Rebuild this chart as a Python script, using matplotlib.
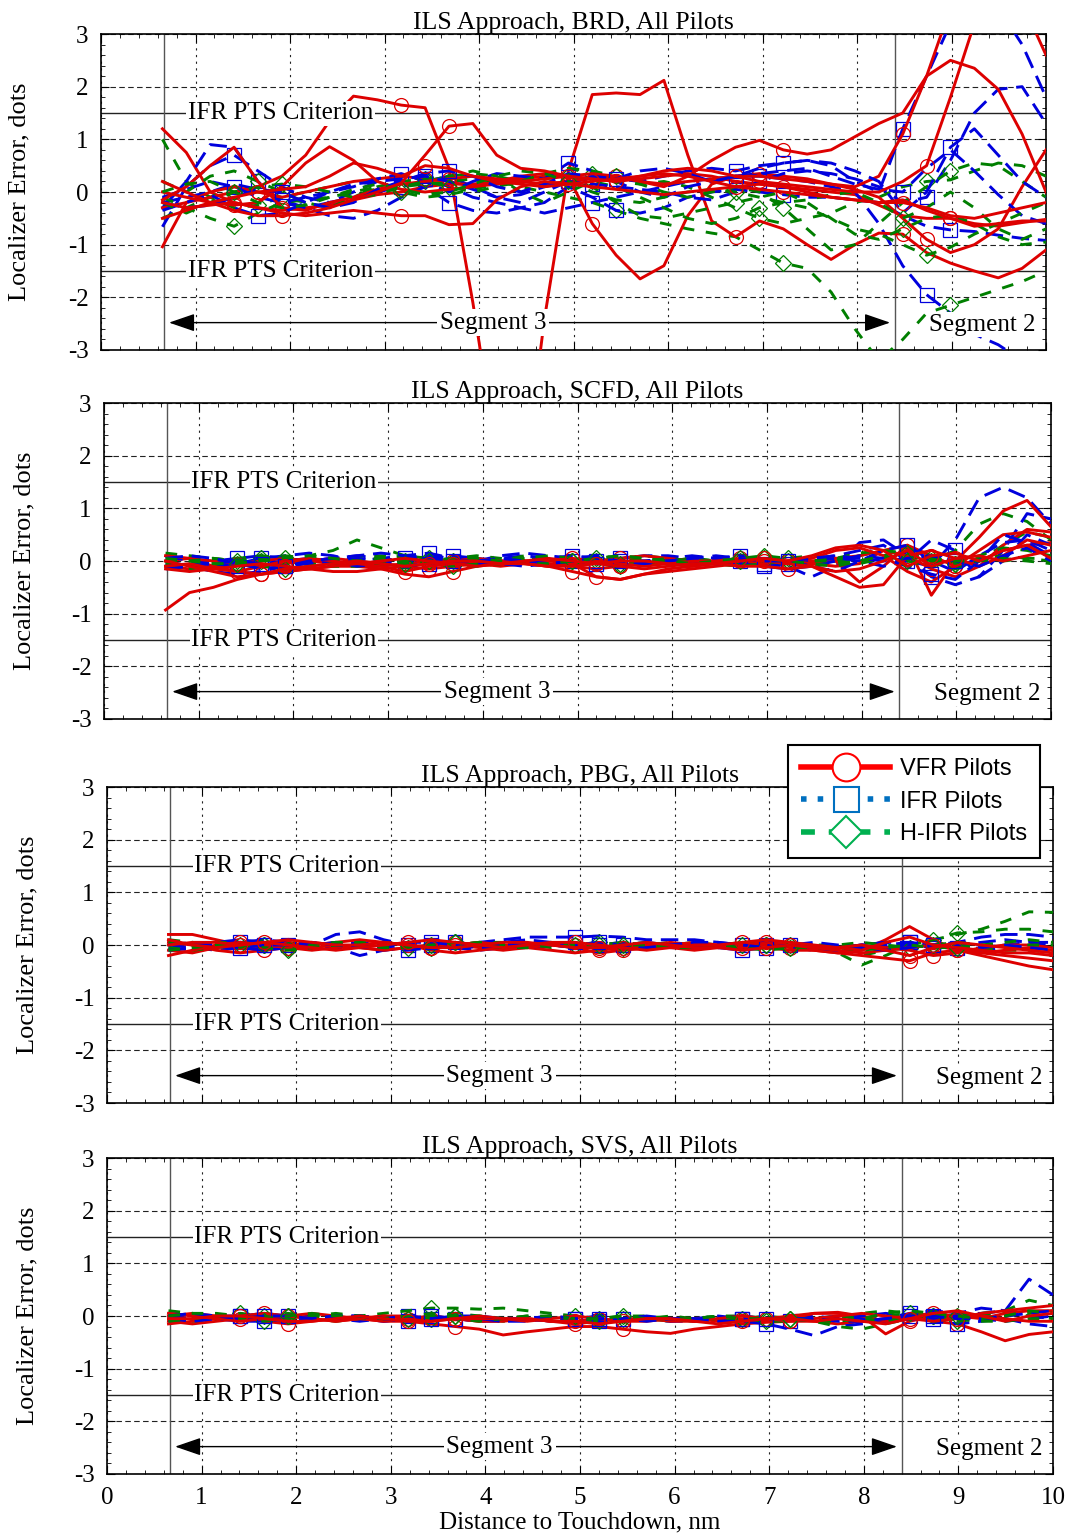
import numpy as np
import matplotlib
matplotlib.use("Agg")
import matplotlib.pyplot as plt
from matplotlib.lines import Line2D

plt.rcParams['font.family'] = ['Liberation Serif', 'DejaVu Serif']
plt.rcParams['axes.unicode_minus'] = False

# ---------------- data ----------------
# distance to touchdown (nm) at which each trace is sampled
DIST = np.linspace(0.65, 10.0, 38)

PANEL_TITLES = ["ILS Approach, BRD, All Pilots", "ILS Approach, SCFD, All Pilots",
                "ILS Approach, PBG, All Pilots", "ILS Approach, SVS, All Pilots"]
X_TICKS = [0, 1, 2, 3, 4, 5, 6, 7, 8, 9, 10]
Y_TICKS = [-3, -2, -1, 0, 1, 2, 3]
PTS_LIMIT = 1.5
SEG_BOUNDS = [0.67, 8.4]
LEGEND_LABELS = ["VFR Pilots", "IFR Pilots", "H-IFR Pilots"]

# ---- BRD ----
BRD_VFR = [
    [1.2,0.75,0.0,-0.2,-0.3,-0.35,-0.3,-0.25,-0.15,-0.05,0.0,0.1,0.15,0.15,0.2,0.25,0.3,0.3,0.25,0.2,0.25,0.3,0.35,0.3,0.2,0.15,0.1,0.05,0.0,-0.05,-0.25,-0.45,-0.5,-0.5,-0.6,-0.65,-0.58,-0.52],
    [-0.3,-0.2,-0.1,0.0,0.1,0.3,0.7,1.35,1.82,1.75,1.65,1.6,0.45,-2.1,-5.0,-6.0,-2.4,0.4,1.85,1.88,1.85,2.12,0.7,-0.55,-0.85,-0.55,-0.7,-1.0,-1.28,-1.0,-0.78,-0.8,-1.15,-1.35,-1.5,-1.63,-1.45,-1.1],
    [-1.04,-0.2,0.0,0.1,0.0,-0.1,0.0,0.1,0.2,0.25,0.3,0.25,0.2,0.1,0.2,0.3,0.35,0.28,-0.6,-1.2,-1.65,-1.4,-0.45,0.15,0.3,0.35,0.3,0.25,0.15,0.05,-0.1,-0.5,-0.9,-1.15,-1.0,-0.7,0.1,0.8],
    [-0.15,0.1,0.5,0.85,0.2,-0.3,-0.35,-0.2,-0.1,0.05,0.15,0.2,0.25,0.3,0.25,0.2,0.15,0.2,0.25,0.3,0.2,0.1,0.3,0.6,0.85,0.98,0.8,0.72,0.8,1.05,1.3,1.5,2.2,3.5,4.5,4.5,3.6,2.6],
    [0.0,-0.1,-0.2,-0.25,-0.2,0.1,0.55,0.86,0.6,0.2,0.05,0.0,0.05,0.1,0.15,0.2,0.25,0.3,0.35,0.3,0.2,0.15,0.2,0.25,0.3,0.3,0.25,0.2,0.15,0.1,0.3,1.1,2.2,2.5,2.35,1.95,1.1,0.0],
    [-0.5,-0.35,-0.2,-0.1,0.0,0.05,0.1,0.3,0.55,0.45,0.3,0.5,0.45,0.3,0.2,0.15,0.1,0.15,0.2,0.25,0.3,0.4,0.45,0.4,0.3,0.2,0.15,0.1,0.05,0.0,0.0,0.2,0.5,1.8,3.2,4.0,4.0,3.5],
    [0.2,0.0,-0.2,-0.35,-0.45,-0.45,-0.4,-0.3,-0.15,0.0,0.17,0.7,1.25,1.3,0.7,0.45,0.4,0.3,0.25,0.2,0.3,0.35,0.3,0.2,0.1,0.05,0.0,-0.05,-0.1,-0.15,-0.2,-0.15,-0.35,-0.5,-0.65,-0.6,-0.55,-0.55],
    [-0.2,-0.3,-0.25,-0.2,-0.3,-0.4,-0.45,-0.4,-0.35,-0.4,-0.45,-0.45,-0.62,-0.6,-0.15,0.1,0.2,0.15,0.1,0.05,0.0,-0.05,0.0,0.05,0.1,0.15,0.1,0.0,-0.1,-0.15,-0.2,-0.2,-0.3,-0.45,-0.5,-0.4,-0.3,-0.2],
]
BRD_IFR = [
    [-0.66,0.1,0.5,0.7,0.4,0.1,-0.1,-0.2,-0.1,0.0,0.1,0.2,0.3,0.1,-0.1,-0.2,0.0,0.2,0.3,0.25,0.2,0.3,0.4,0.45,0.4,0.5,0.55,0.6,0.5,0.2,0.0,1.2,2.2,3.2,3.6,3.5,2.8,1.8],
    [-0.3,0.2,0.9,0.85,0.2,-0.2,-0.3,-0.2,0.0,0.2,0.3,0.25,0.1,-0.1,-0.2,-0.3,-0.4,-0.3,-0.2,-0.1,0.0,0.1,0.2,0.25,0.3,0.3,0.25,0.2,0.1,0.0,-0.6,-1.4,-1.95,-2.3,-2.7,-2.9,-3.2,-3.5],
    [-0.2,-0.1,0.0,0.15,0.05,-0.15,-0.3,-0.45,-0.5,-0.35,-0.1,0.1,-0.2,-0.35,-0.4,-0.3,-0.2,0.1,-0.1,-0.35,-0.4,-0.3,-0.1,0.0,0.05,0.0,-0.05,-0.1,-0.1,-0.15,-0.2,-0.45,-0.65,-0.72,-0.75,-0.82,-0.88,-0.92],
    [-0.1,0.05,0.2,0.1,-0.1,-0.2,-0.1,0.0,0.1,0.25,0.35,0.2,0.0,0.2,0.35,0.3,0.25,0.55,0.4,0.2,0.0,-0.1,0.1,0.2,0.3,0.35,0.4,0.45,0.3,0.15,0.05,0.0,0.45,0.8,0.4,-0.05,-0.45,-0.6],
    [-0.35,-0.2,-0.05,-0.3,-0.45,-0.4,-0.2,0.0,0.15,0.2,0.25,0.3,0.2,0.05,-0.1,-0.05,0.1,0.2,0.15,0.1,0.05,0.0,-0.1,-0.15,0.0,0.2,0.35,0.4,0.35,0.25,0.1,-0.2,-0.1,0.6,1.5,1.95,2.0,1.3],
    [-0.2,-0.3,-0.25,-0.1,0.05,0.0,-0.2,-0.3,-0.2,0.05,0.2,0.35,0.4,0.3,0.1,0.0,0.15,0.35,0.3,0.25,0.4,0.45,0.35,0.2,0.3,0.45,0.55,0.6,0.55,0.4,0.2,-0.4,0.0,0.85,1.2,0.7,0.2,-0.1],
]
BRD_HIFR = [
    [1.0,0.2,-0.1,-0.3,-0.25,-0.1,0.0,0.1,0.2,0.15,0.1,0.2,0.3,0.35,0.3,0.2,0.3,0.45,0.35,0.2,0.15,0.2,0.1,-0.1,-0.3,-0.5,-0.6,-0.5,-0.4,-0.2,-0.1,0.1,0.2,0.23,0.4,0.55,0.5,0.3],
    [-0.5,-0.3,-0.1,0.1,0.0,-0.1,-0.2,-0.1,0.0,0.05,0.1,0.15,0.2,0.25,0.2,0.1,0.0,-0.1,-0.2,-0.35,-0.5,-0.6,-0.7,-0.78,-0.85,-1.1,-1.35,-1.45,-1.9,-2.6,-3.2,-2.8,-2.3,-2.15,-2.0,-1.85,-1.7,-1.5],
    [-0.1,-0.3,-0.5,-0.65,-0.4,-0.2,-0.15,-0.1,0.0,0.1,0.0,-0.1,-0.05,0.05,0.15,0.2,0.25,0.3,0.1,-0.2,-0.45,-0.5,-0.4,-0.3,-0.2,-0.1,0.0,-0.2,-0.5,-0.8,-0.9,-0.7,-0.5,-0.43,-0.6,-0.85,-1.0,-0.95],
    [0.2,0.0,0.3,0.4,0.2,0.0,-0.2,-0.3,-0.1,0.1,0.2,0.25,0.3,0.4,0.3,0.0,-0.2,0.0,0.2,0.1,-0.1,-0.3,-0.5,-0.6,-0.5,-0.3,-0.2,-0.3,-0.5,-0.7,-0.8,-1.0,-1.2,-1.05,-0.8,-0.6,-0.4,-0.2],
    [-0.2,-0.4,-0.2,0.0,0.1,0.15,0.1,0.0,-0.1,-0.05,0.1,0.2,0.1,0.0,0.1,0.2,0.35,0.45,0.4,0.3,0.15,0.0,-0.1,0.0,0.1,0.0,-0.3,-0.7,-1.1,-1.0,-0.6,-0.2,0.1,0.4,0.55,0.5,0.2,-0.1],
    [0.0,0.15,0.2,0.0,-0.2,-0.3,-0.25,-0.1,0.05,0.15,0.05,-0.05,0.0,0.15,0.3,0.4,0.35,0.2,0.0,-0.15,-0.2,-0.1,0.0,0.05,0.0,-0.1,-0.2,-0.15,-0.05,0.0,-0.2,-0.5,-0.3,0.0,-0.3,-0.7,-0.9,-0.7],
]

# ---- SCFD ----
SCFD_VFR = [
    [-0.93,-0.6,-0.5,-0.35,-0.25,-0.2,-0.15,-0.1,-0.1,-0.15,-0.25,-0.3,-0.2,-0.1,-0.05,0.0,-0.05,-0.1,-0.15,-0.1,-0.05,-0.05,0.0,0.0,-0.05,-0.1,-0.05,0.0,0.05,0.1,0.2,0.3,0.1,-0.1,0.0,0.2,0.3,0.35],
    [-0.1,-0.15,-0.1,-0.05,0.0,0.05,0.0,-0.05,-0.1,-0.1,-0.05,0.0,0.0,-0.05,-0.1,-0.05,-0.1,-0.2,-0.3,-0.35,-0.25,-0.15,-0.1,-0.05,0.0,0.0,-0.05,-0.05,0.0,-0.4,-0.1,0.3,-0.65,0.0,0.45,0.95,1.15,0.65],
    [0.0,0.05,-0.1,-0.2,-0.25,-0.2,-0.15,-0.2,-0.2,-0.15,-0.1,-0.15,-0.1,-0.05,0.0,0.0,0.0,-0.05,-0.3,-0.35,-0.25,-0.2,-0.15,-0.1,-0.05,0.0,0.0,-0.05,-0.1,-0.05,0.2,0.1,-0.15,-0.3,-0.1,0.3,0.6,0.55],
    [0.1,0.05,0.0,-0.05,-0.1,-0.05,0.0,0.05,0.0,-0.05,-0.1,-0.05,0.0,0.05,0.0,-0.05,-0.1,-0.05,0.0,0.05,0.1,0.05,0.0,-0.05,-0.1,-0.05,0.0,0.05,0.2,0.25,0.1,-0.2,-0.4,-0.1,0.2,0.5,0.55,0.45],
    [-0.1,-0.05,-0.15,-0.2,-0.1,0.0,0.05,0.0,-0.05,-0.1,-0.2,-0.1,-0.05,0.0,0.0,-0.05,0.0,0.05,0.0,-0.05,-0.1,-0.05,0.0,0.0,0.05,0.0,-0.05,-0.1,-0.3,-0.5,-0.45,0.1,0.2,0.05,-0.1,0.1,0.4,0.3],
    [0.0,-0.1,-0.2,-0.3,-0.25,-0.15,-0.1,-0.05,0.0,-0.05,-0.1,-0.05,0.0,0.0,-0.05,-0.05,-0.1,-0.1,-0.05,0.0,0.0,-0.05,-0.1,-0.05,0.0,0.05,0.0,0.1,0.25,0.3,0.2,-0.1,0.1,0.15,0.0,0.2,0.3,0.05],
    [-0.15,-0.2,-0.15,-0.1,-0.05,-0.1,-0.15,-0.1,-0.05,0.0,0.05,0.0,-0.05,-0.1,-0.05,0.0,0.05,0.0,-0.05,-0.1,-0.15,-0.1,-0.05,-0.05,-0.1,-0.1,-0.15,-0.1,-0.2,-0.15,0.0,0.2,-0.1,0.05,0.1,0.0,0.1,0.2],
]
SCFD_IFR = [
    [-0.1,-0.05,0.0,0.05,0.1,0.05,0.0,0.05,0.1,0.05,0.0,0.1,0.05,0.0,0.05,0.1,0.05,0.0,0.0,0.05,0.1,0.1,0.05,0.0,0.0,-0.05,0.0,0.05,0.1,0.2,0.3,0.0,-0.1,0.4,1.2,1.4,1.2,0.7],
    [0.0,-0.1,-0.15,-0.05,0.05,0.1,0.15,0.1,0.0,0.05,0.1,0.15,0.05,0.0,0.1,0.15,0.1,0.05,0.0,-0.05,0.0,0.05,0.1,0.05,0.0,-0.05,-0.1,-0.3,-0.1,0.35,0.4,0.1,-0.3,-0.45,-0.3,0.2,0.9,0.8],
    [-0.05,-0.1,-0.2,-0.25,-0.2,-0.1,0.0,0.05,0.0,-0.05,0.0,0.05,0.1,0.05,0.0,-0.05,0.0,0.05,0.1,0.05,0.0,0.0,0.05,0.0,-0.05,0.0,-0.05,0.0,0.05,0.0,-0.1,0.0,0.4,0.2,-0.3,0.0,0.5,0.3],
    [0.1,0.0,-0.05,-0.1,-0.05,0.0,0.05,0.0,-0.1,-0.05,0.05,0.1,0.0,-0.05,-0.05,0.0,0.05,0.1,0.05,0.0,-0.05,-0.05,0.0,0.05,0.1,0.0,0.0,-0.1,-0.2,0.0,0.2,0.3,0.0,-0.2,0.1,0.35,0.4,0.2],
    [-0.15,-0.1,-0.05,0.0,-0.05,-0.1,-0.05,0.0,0.05,0.0,-0.1,-0.05,0.0,0.0,-0.05,-0.1,-0.05,0.0,-0.05,-0.1,-0.05,0.0,0.0,-0.05,-0.05,-0.1,-0.15,-0.1,0.0,0.1,0.05,-0.1,-0.25,-0.35,0.0,0.5,0.35,0.1],
    [0.05,0.1,0.05,-0.05,-0.15,-0.1,0.0,0.05,0.1,0.15,0.1,0.05,0.0,0.0,0.05,0.0,-0.05,0.0,0.05,0.0,-0.05,0.0,0.05,0.1,0.05,0.0,0.0,0.05,0.1,0.05,0.0,0.05,0.1,0.0,-0.1,0.1,0.25,0.0],
]
SCFD_HIFR = [
    [0.1,0.05,0.0,-0.05,0.0,0.05,0.1,0.2,0.4,0.25,0.1,0.05,0.0,-0.05,0.0,0.05,0.0,-0.05,0.0,0.05,0.1,0.05,0.0,-0.05,0.0,0.05,0.0,-0.05,0.0,0.1,0.2,0.1,0.0,0.2,0.7,0.9,0.75,0.4],
    [0.0,-0.1,-0.05,0.05,0.1,0.05,0.0,-0.05,0.0,0.05,0.1,0.05,0.0,-0.05,0.0,0.1,0.05,0.0,-0.05,-0.1,-0.05,0.0,0.05,0.0,-0.05,0.0,0.05,0.1,0.05,0.0,0.1,0.25,0.05,-0.05,0.05,0.1,0.05,0.0],
    [-0.1,-0.15,-0.1,0.0,0.05,0.0,-0.05,-0.1,-0.1,-0.05,0.0,0.0,-0.05,-0.1,-0.05,0.0,0.05,0.0,-0.05,0.0,0.05,0.0,-0.05,-0.05,0.0,0.0,-0.05,-0.1,-0.05,0.0,0.05,0.15,0.0,-0.15,0.0,0.3,0.55,0.45],
    [0.15,0.1,0.05,0.0,0.05,0.1,0.05,0.0,0.05,0.1,0.05,0.0,0.05,0.1,0.05,0.0,0.05,0.0,0.05,0.1,0.05,0.0,0.05,0.0,0.05,0.1,0.05,0.0,0.05,0.15,0.2,0.15,0.05,0.0,0.05,0.0,0.05,0.05],
    [-0.05,0.0,0.05,0.0,-0.1,-0.15,-0.1,-0.05,0.0,0.05,0.0,-0.05,-0.1,-0.05,0.0,0.05,0.1,0.05,0.0,-0.05,0.0,0.05,0.0,-0.05,-0.1,-0.05,0.0,0.0,0.0,-0.05,0.05,0.1,0.0,-0.05,0.1,0.25,0.2,0.1],
    [0.05,0.0,-0.05,-0.05,0.0,0.05,0.1,0.05,0.0,-0.05,-0.05,0.0,0.05,0.05,0.0,-0.05,-0.05,0.0,0.05,0.1,0.05,0.0,-0.05,0.0,0.05,0.05,0.0,-0.05,-0.1,0.0,0.1,0.0,-0.1,0.0,0.0,0.05,0.0,-0.05],
]

# ---- PBG ----
PBG_VFR = [
    [0.2,0.2,0.1,0.0,-0.05,0.0,0.05,0.0,-0.05,-0.1,-0.05,0.0,0.05,0.0,-0.05,-0.05,0.0,-0.05,-0.15,-0.1,-0.05,0.0,0.0,-0.05,-0.05,0.0,-0.05,-0.1,-0.15,-0.1,0.1,0.35,0.1,-0.1,-0.2,-0.3,-0.4,-0.47],
    [-0.1,-0.15,-0.05,0.05,0.0,-0.05,-0.1,-0.05,0.0,0.05,0.0,-0.1,-0.15,-0.1,-0.05,0.0,0.05,0.0,-0.05,-0.1,-0.05,0.0,0.05,0.0,-0.05,-0.05,-0.1,-0.1,-0.15,-0.2,-0.25,-0.3,-0.15,-0.1,-0.15,-0.2,-0.25,-0.3],
    [0.05,0.0,-0.1,-0.15,-0.1,-0.05,0.0,0.05,0.1,0.05,0.0,-0.05,0.0,0.05,0.0,-0.05,-0.1,-0.15,-0.1,-0.05,0.0,0.05,0.0,-0.05,0.0,0.05,0.0,-0.05,-0.05,0.0,-0.05,-0.1,-0.2,-0.15,-0.05,0.0,0.0,-0.05],
    [-0.2,-0.1,0.0,0.05,0.0,-0.05,-0.05,0.0,-0.05,-0.1,-0.05,0.0,0.0,-0.05,-0.1,-0.05,0.0,0.0,-0.05,-0.05,0.0,-0.05,-0.1,-0.05,0.0,0.05,0.0,-0.05,-0.1,-0.15,-0.1,-0.05,0.0,-0.1,-0.15,-0.1,-0.05,-0.1],
    [0.0,0.05,0.05,0.0,0.05,0.0,-0.05,-0.1,-0.05,0.0,0.05,0.1,0.05,0.0,-0.05,0.0,0.05,0.05,0.0,-0.05,-0.1,-0.05,0.0,0.0,0.05,0.1,0.05,0.0,-0.05,0.0,-0.1,-0.2,-0.05,0.05,0.0,-0.05,-0.1,-0.15],
    [0.1,0.0,-0.05,0.0,0.05,0.1,0.05,0.0,0.0,0.05,0.0,-0.05,-0.05,0.0,0.05,0.05,0.0,-0.05,-0.05,0.0,0.05,0.0,-0.05,-0.05,-0.1,-0.05,0.0,-0.05,-0.05,-0.1,0.05,0.15,0.0,-0.05,-0.1,-0.15,-0.15,-0.2],
]
PBG_IFR = [
    [-0.05,-0.1,-0.05,0.05,0.1,0.05,0.0,0.2,0.25,0.1,0.0,0.05,0.0,0.05,0.1,0.15,0.15,0.15,0.17,0.15,0.1,0.1,0.1,0.05,0.0,0.0,-0.05,-0.05,-0.1,-0.05,0.0,0.05,0.0,0.05,0.15,0.2,0.2,0.15],
    [0.0,-0.05,-0.1,-0.05,0.0,0.05,0.0,-0.05,-0.2,-0.1,-0.05,0.0,-0.05,-0.1,-0.05,0.0,0.0,-0.05,0.0,0.05,0.0,-0.05,-0.05,0.0,0.05,0.0,-0.05,-0.1,-0.05,0.0,0.05,0.0,-0.05,-0.1,-0.05,0.0,0.05,0.0],
    [0.05,0.0,0.05,0.1,0.05,0.0,-0.05,0.0,0.05,0.0,-0.05,0.0,0.05,0.0,0.05,0.1,0.05,0.0,-0.05,0.0,0.05,0.0,0.0,-0.05,0.0,0.05,0.0,-0.05,-0.1,-0.05,-0.05,0.0,0.0,-0.05,-0.1,-0.05,0.0,-0.05],
    [-0.1,-0.05,0.0,-0.05,-0.1,-0.05,0.0,0.05,0.0,-0.05,-0.1,-0.05,0.0,0.0,-0.05,-0.05,0.0,0.05,0.0,-0.05,-0.05,0.0,0.0,-0.05,-0.1,-0.05,0.0,0.0,-0.05,0.0,0.05,0.05,0.0,0.0,0.05,0.1,0.05,0.05],
    [0.0,0.05,0.0,-0.05,0.0,0.0,0.05,0.0,-0.05,0.0,0.05,0.05,0.0,-0.05,0.0,0.05,0.0,0.0,0.05,0.0,-0.05,0.0,0.05,0.05,0.0,-0.05,0.0,0.05,0.0,-0.05,-0.1,-0.05,0.0,-0.05,-0.05,0.0,-0.05,-0.1],
]
PBG_HIFR = [
    [0.0,0.05,0.0,-0.05,0.0,0.05,0.0,-0.05,0.0,0.05,0.0,-0.05,0.0,0.05,0.0,-0.05,0.0,0.0,0.05,0.0,-0.05,0.0,0.05,0.0,-0.05,0.0,0.0,-0.05,-0.1,-0.2,-0.1,0.0,0.1,0.2,0.3,0.45,0.63,0.62],
    [0.1,0.05,0.0,-0.05,-0.1,-0.05,0.0,0.05,0.0,-0.05,0.0,0.0,0.05,0.0,-0.05,0.0,0.05,0.0,-0.05,-0.05,0.0,0.05,0.0,-0.05,-0.05,0.0,0.0,-0.05,-0.15,-0.38,-0.2,0.0,0.1,0.23,0.25,0.3,0.3,0.25],
    [-0.05,-0.1,-0.05,0.0,0.05,0.0,-0.05,0.0,0.05,0.0,-0.05,-0.05,0.0,0.05,0.05,0.0,-0.05,0.0,0.0,0.05,0.0,-0.05,-0.05,0.0,0.0,-0.05,-0.05,0.0,0.0,-0.05,-0.1,-0.05,0.0,0.0,-0.05,-0.1,-0.1,-0.15],
    [0.05,0.0,0.05,0.05,0.0,-0.05,0.0,0.05,0.05,0.0,-0.05,0.0,0.0,0.05,0.0,-0.05,0.0,0.05,0.0,0.0,0.05,0.0,-0.05,0.0,0.05,0.0,-0.05,-0.05,0.0,0.05,0.0,-0.05,0.0,0.05,0.0,-0.05,0.0,0.0],
    [-0.1,-0.05,0.0,0.0,-0.05,-0.1,-0.05,0.0,0.0,-0.05,-0.05,0.0,0.05,0.0,-0.05,-0.05,0.0,0.0,-0.05,0.0,0.0,-0.05,-0.05,0.0,-0.05,-0.1,-0.05,0.0,-0.05,-0.1,-0.05,0.0,-0.05,-0.05,0.0,0.05,0.1,0.05],
]

# ---- SVS ----
SVS_VFR = [
    [-0.1,-0.15,-0.1,-0.05,-0.1,-0.15,-0.1,-0.05,-0.05,-0.1,-0.1,-0.15,-0.2,-0.25,-0.36,-0.3,-0.25,-0.2,-0.2,-0.25,-0.3,-0.33,-0.25,-0.2,-0.15,-0.12,-0.1,-0.1,-0.15,-0.1,-0.05,0.0,-0.1,-0.15,-0.3,-0.47,-0.35,-0.3],
    [0.0,0.05,0.0,-0.05,-0.05,0.0,0.05,0.0,-0.05,-0.1,-0.05,0.0,-0.05,-0.1,-0.1,-0.05,-0.1,-0.15,-0.1,-0.05,-0.05,-0.1,-0.1,-0.05,-0.05,-0.1,-0.05,0.05,0.07,0.0,-0.34,-0.1,0.0,-0.05,0.05,0.1,0.15,0.2],
    [-0.15,-0.1,-0.05,0.0,0.05,0.0,-0.05,-0.1,-0.05,0.0,0.0,-0.05,-0.05,-0.1,-0.05,-0.05,-0.1,-0.1,-0.05,-0.1,-0.1,-0.05,-0.05,-0.1,-0.1,-0.05,0.0,0.05,0.05,0.0,-0.1,0.0,0.05,0.0,-0.05,0.05,0.1,0.1],
    [0.05,0.0,-0.05,-0.1,-0.05,0.0,-0.05,-0.1,-0.05,0.0,-0.05,-0.1,-0.05,-0.05,-0.05,-0.1,-0.05,0.0,-0.05,-0.1,-0.05,-0.05,-0.1,-0.05,0.0,-0.05,-0.1,-0.05,0.0,0.05,0.0,-0.05,-0.1,-0.05,0.0,-0.05,-0.1,-0.1],
    [-0.05,-0.05,0.0,0.0,-0.05,-0.1,-0.1,-0.05,0.0,-0.05,-0.1,-0.1,-0.05,0.0,-0.05,-0.05,-0.1,-0.1,-0.15,-0.1,-0.05,-0.05,-0.1,-0.15,-0.1,-0.05,-0.05,-0.1,-0.05,-0.1,-0.15,-0.05,0.05,0.1,0.0,-0.1,0.0,0.05],
]
SVS_IFR = [
    [0.0,-0.05,0.0,0.0,-0.05,-0.05,0.0,-0.05,-0.1,-0.05,0.0,-0.05,-0.05,-0.1,-0.05,-0.05,-0.1,-0.05,0.0,-0.05,-0.05,-0.1,-0.05,0.0,-0.05,-0.1,-0.05,0.0,-0.05,-0.1,-0.05,0.05,0.1,0.05,0.05,0.1,0.7,0.4],
    [-0.1,-0.05,-0.05,-0.1,-0.1,-0.05,0.0,-0.05,-0.05,-0.1,-0.05,0.0,-0.05,-0.1,-0.1,-0.05,-0.05,-0.1,-0.1,-0.05,-0.05,-0.1,-0.1,-0.05,-0.1,-0.15,-0.25,-0.37,-0.2,-0.15,-0.1,0.0,-0.05,0.05,0.15,0.1,0.0,-0.05],
    [0.05,0.0,-0.05,0.0,0.05,0.0,-0.05,0.0,0.0,-0.05,-0.05,0.0,-0.05,-0.05,-0.1,-0.05,0.0,-0.05,-0.1,-0.05,0.0,-0.05,-0.05,-0.05,0.0,-0.05,-0.1,-0.05,0.0,-0.05,-0.1,-0.05,-0.1,-0.15,-0.1,-0.05,-0.15,-0.2],
    [-0.05,-0.1,-0.05,0.0,-0.05,-0.1,-0.05,-0.05,0.0,-0.05,-0.1,-0.05,-0.05,-0.05,-0.1,-0.1,-0.05,-0.05,-0.1,-0.1,-0.05,-0.05,-0.05,-0.1,-0.05,-0.05,-0.1,-0.05,-0.05,0.0,0.05,0.0,-0.05,0.0,-0.05,-0.1,-0.05,0.0],
    [0.0,0.05,0.0,-0.05,0.0,0.0,-0.05,0.0,0.0,-0.05,0.0,-0.05,0.0,0.0,-0.05,-0.05,0.0,-0.05,-0.05,-0.05,-0.1,-0.05,-0.05,-0.1,-0.1,-0.05,-0.05,-0.05,-0.1,-0.1,-0.05,0.0,0.0,-0.05,-0.05,0.0,0.05,0.1],
]
SVS_HIFR = [
    [0.1,0.05,0.0,-0.05,0.0,0.05,0.0,-0.05,0.0,0.05,0.1,0.15,0.15,0.13,0.15,0.1,0.05,0.0,-0.05,0.0,0.0,-0.05,-0.05,0.0,0.0,-0.05,-0.05,-0.1,-0.15,-0.1,0.0,0.05,0.0,0.0,0.05,0.1,0.3,0.2],
    [-0.05,-0.1,-0.05,0.0,0.05,0.0,-0.05,-0.1,-0.05,0.0,-0.05,-0.05,0.0,-0.05,-0.1,-0.05,-0.05,-0.1,-0.1,-0.05,-0.05,-0.1,-0.05,0.0,-0.05,-0.1,-0.05,-0.1,-0.2,-0.25,-0.15,-0.05,-0.05,-0.1,0.0,0.05,0.0,-0.05],
    [0.05,0.0,0.0,0.05,0.0,-0.05,0.0,0.05,0.0,-0.05,-0.05,0.0,0.05,0.0,-0.05,-0.05,0.0,0.0,-0.05,-0.05,-0.05,0.0,-0.05,-0.05,-0.05,0.0,-0.05,-0.05,-0.05,0.05,0.1,0.05,-0.05,-0.1,-0.05,0.0,0.05,0.1],
    [-0.1,-0.05,0.0,-0.05,-0.1,-0.05,0.0,0.0,-0.05,-0.05,0.0,-0.05,-0.05,-0.1,-0.05,0.0,-0.05,-0.05,-0.1,-0.05,-0.05,-0.05,-0.1,-0.05,-0.05,-0.1,-0.1,-0.05,0.0,-0.05,-0.1,0.0,0.0,-0.05,-0.1,-0.1,-0.05,-0.05],
    [0.0,0.05,0.05,0.0,-0.05,0.0,0.05,0.0,0.0,-0.05,0.0,0.05,0.0,0.0,-0.05,0.0,0.0,-0.05,-0.05,0.0,-0.05,-0.05,-0.05,0.0,-0.05,-0.05,-0.05,-0.1,-0.1,-0.05,0.05,0.1,0.05,0.0,-0.05,0.0,0.1,0.05],
]

PANELS = [(BRD_VFR, BRD_IFR, BRD_HIFR), (SCFD_VFR, SCFD_IFR, SCFD_HIFR),
          (PBG_VFR, PBG_IFR, PBG_HIFR), (SVS_VFR, SVS_IFR, SVS_HIFR)]

# ---------------- styling ----------------
RED, BLUE, GREEN = '#dd0000', '#0000dd', '#007f00'
W, H = 1071, 1535
RECTS = [(101, 34, 945), (104, 403, 947), (107, 787, 946), (107, 1158, 946)]  # left px, top px, width px
AX_H = 316
FS = 18

fig = plt.figure(figsize=(W / 100, H / 100), dpi=100)
axes = []
for (lpx, tpx, wpx) in RECTS:
    axes.append(fig.add_axes([lpx / W, 1 - (tpx + AX_H) / H, wpx / W, AX_H / H]))

LW = 2.1
for i, ax in enumerate(axes):
    vfr, ifr, hifr = PANELS[i]
    n = max(len(vfr), len(ifr), len(hifr))
    for j in range(n):
        if j < len(ifr):
            ax.plot(DIST, ifr[j], color=BLUE, lw=LW, ls=(0, (6, 3)), marker='s', ms=10,
                    mfc='none', mec=BLUE, mew=0.9, markevery=slice(3 + (j % 3), None, 7), zorder=3)
        if j < len(hifr):
            ax.plot(DIST, hifr[j], color=GREEN, lw=LW, ls=(0, (4, 4)), marker='D', ms=8,
                    mfc='none', mec=GREEN, mew=0.9, markevery=slice(3 + ((j + 1) % 3), None, 7), zorder=3)
        if j < len(vfr):
            ax.plot(DIST, vfr[j], color=RED, lw=LW, ls='-', marker='o', ms=10,
                    mfc='none', mec=RED, mew=0.9, markevery=slice(3 + ((j + 2) % 3), None, 7), zorder=3)

    ax.set_xlim(0, 10)
    ax.set_ylim(-3, 3)
    ax.set_xticks(X_TICKS)
    ax.set_yticks(Y_TICKS)
    ax.set_xticks(np.arange(0, 10.01, 0.2), minor=True)
    ax.set_yticks(np.arange(-3, 3.01, 0.2), minor=True)
    ax.tick_params(which='major', direction='in', length=6, width=0.8, top=True, right=True,
                   labelsize=FS, pad=9)
    ax.tick_params(which='minor', direction='in', length=3, width=0.6, top=True, right=True)
    if i < 3:
        ax.tick_params(labelbottom=False)
    ax.xaxis.grid(True, which='major', color='#222222', lw=0.8, ls=(0, (2, 4)))
    ax.yaxis.grid(True, which='major', color='#222222', lw=0.8, ls=(0, (5, 3)))
    ax.set_axisbelow(True)
    for s in ax.spines.values():
        s.set_linewidth(1.2)

    # PTS criterion lines
    for yv in (PTS_LIMIT, -PTS_LIMIT):
        ax.axhline(yv, color='#222222', lw=1.0, zorder=2)
        ax.text(1.9, yv, "IFR PTS Criterion", fontsize=FS, ha='center', va='center', zorder=6,
                bbox=dict(facecolor='white', edgecolor='none', pad=1))
    # segment boundaries
    for xv in SEG_BOUNDS:
        ax.axvline(xv, color='#555555', lw=1.0, zorder=2)
    ax.annotate('', xy=(0.72, -2.48), xytext=(8.35, -2.48),
                arrowprops=dict(arrowstyle='<|-|>,head_length=1.6,head_width=0.55',
                                mutation_scale=10, color='black', lw=1.0,
                                shrinkA=0, shrinkB=0), zorder=5)
    ax.text(4.15, -2.48, "Segment 3", fontsize=FS, ha='center', va='center', zorder=6,
            bbox=dict(facecolor='white', edgecolor='none', pad=2))
    ax.text(9.33, -2.52, "Segment 2", fontsize=FS, ha='center', va='center', zorder=6,
            bbox=dict(facecolor='white', edgecolor='none', pad=1))

    ax.set_title(PANEL_TITLES[i], fontsize=18.5, pad=3)
    ax.set_ylabel("Localizer Error, dots", fontsize=19)
    ax.yaxis.set_label_coords(-0.075 if i == 0 else -0.072, 0.5)

axes[3].set_xlabel("Distance to Touchdown, nm", fontsize=FS, labelpad=2)

handles = [
    Line2D([], [], color='#ff0000', lw=4, marker='o', ms=20, mfc='white', mec='#ff0000', mew=1.5),
    Line2D([], [], color='#0070c0', lw=4, ls=(0, (1, 2)), marker='s', ms=18, mfc='white', mec='#0070c0', mew=1.5),
    Line2D([], [], color='#00b050', lw=4, ls=(0, (2.5, 2.5)), marker='D', ms=16, mfc='white', mec='#00b050', mew=1.5),
]
leg = fig.legend(handles, LEGEND_LABELS, loc='upper right', bbox_to_anchor=(1040 / W, 1 - 745 / H),
                 prop={'family': 'Liberation Sans', 'size': 17}, frameon=True, fancybox=False,
                 edgecolor='black', framealpha=1, handlelength=3.8, handletextpad=0.4,
                 borderpad=0.55, labelspacing=0.45, borderaxespad=0)
leg.get_frame().set_linewidth(1.5)

fig.savefig("out.png", dpi=100)
